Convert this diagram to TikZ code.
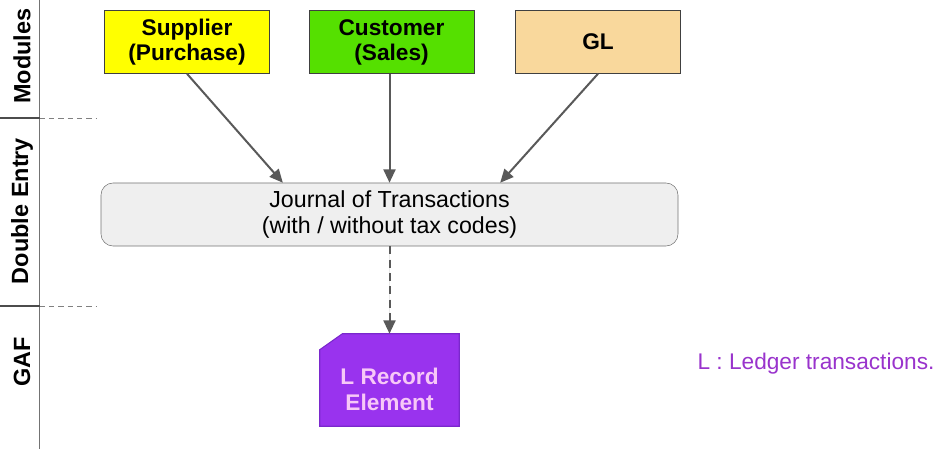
\documentclass[tikz,border=0pt]{standalone}
\usepackage{fontspec}
\setmainfont{Liberation Sans}
\usetikzlibrary{arrows.meta,positioning,calc}
\definecolor{supyellow}{HTML}{FFFF00}
\definecolor{cusgreen}{HTML}{55E000}
\definecolor{glwheat}{HTML}{F9D89C}
\definecolor{jourgray}{HTML}{EFEFEF}
\definecolor{recpurple}{HTML}{9933EE}
\definecolor{recedge}{HTML}{7A28CC}
\definecolor{recpink}{HTML}{F7C8F7}
\definecolor{legpurple}{HTML}{9933CC}
\definecolor{arrgray}{HTML}{595959}

\begin{document}
\begin{tikzpicture}[x=0.75pt, y=-0.75pt,
    module/.style = {draw=black!75, minimum width=124pt, minimum height=47.25pt,
                     align=center, font=\fontsize{17}{18.75}\selectfont\bfseries},
    journal/.style = {draw=black!55, fill=jourgray, rounded corners=9pt,
                      minimum width=432.75pt, minimum height=47.25pt,
                      align=center, font=\fontsize{17.4}{20}\selectfont},
    recbox/.style = {minimum width=104.25pt, minimum height=69pt},
    rectext/.style = {align=center, text=recpink, font=\fontsize{17}{19.5}\selectfont\bfseries},
    lane/.style  = {rotate=90, font=\fontsize{17.6}{19}\selectfont\bfseries},
    arr/.style   = {-{Triangle[length=10pt,width=9pt]}, draw=arrgray, fill=arrgray, line width=1.5pt},
]
\useasboundingbox (0,0) rectangle (946,449);

% lanes
\draw[black!55, line width=1.1pt] (39.5,0) -- (39.5,449);
\draw[black!70, line width=1.1pt] (0,118) -- (39.5,118) (0,306) -- (39.5,306);
\draw[black!50, dash pattern=on 4pt off 3pt] (39.5,118) -- (97,118) (39.5,306) -- (97,306);
\node[lane] (lmod) at (22,56)  {Modules};
\node[lane] (ldbl) at (22,211) {Double Entry};
\node[lane] (lgaf) at (22,362) {GAF};

% modules
\node[module, fill=supyellow] (sup) at (187,42) {Supplier\\(Purchase)};
\node[module, fill=cusgreen]  (cus) at (391.5,42) {Customer\\(Sales)};
\node[module, fill=glwheat]   (gl)  at (598,42) {GL};

% journal
\node[journal] (jour) at (389.5,214.5) {Journal of Transactions\\(with / without tax codes)};

% record element
\node[recbox] (lrec) at (389.5,380) {};
\fill[recpurple, draw=recedge, line width=0.8pt]
    ([xshift=17pt]lrec.north west) -- (lrec.north east) -- (lrec.south east)
    -- (lrec.south west) -- ([yshift=-12pt]lrec.north west) -- cycle;
\node[rectext] (lrectxt) at ([yshift=-7pt]lrec.center) {L Record\\Element};

\node[text=legpurple, font=\fontsize{17}{19}\selectfont] (leg) at (816,364) {L : Ledger transactions.};

% connectors
\draw[arr] (sup.south) -- ([xshift=-80pt]jour.north);
\draw[arr] (jour.north |- cus.south) -- (jour.north);
\draw[arr] (gl.south) -- ([xshift=83pt]jour.north);
\draw[arr, dash pattern=on 6pt off 4pt] (jour.south) -- (lrec.north);
\end{tikzpicture}
\end{document}
